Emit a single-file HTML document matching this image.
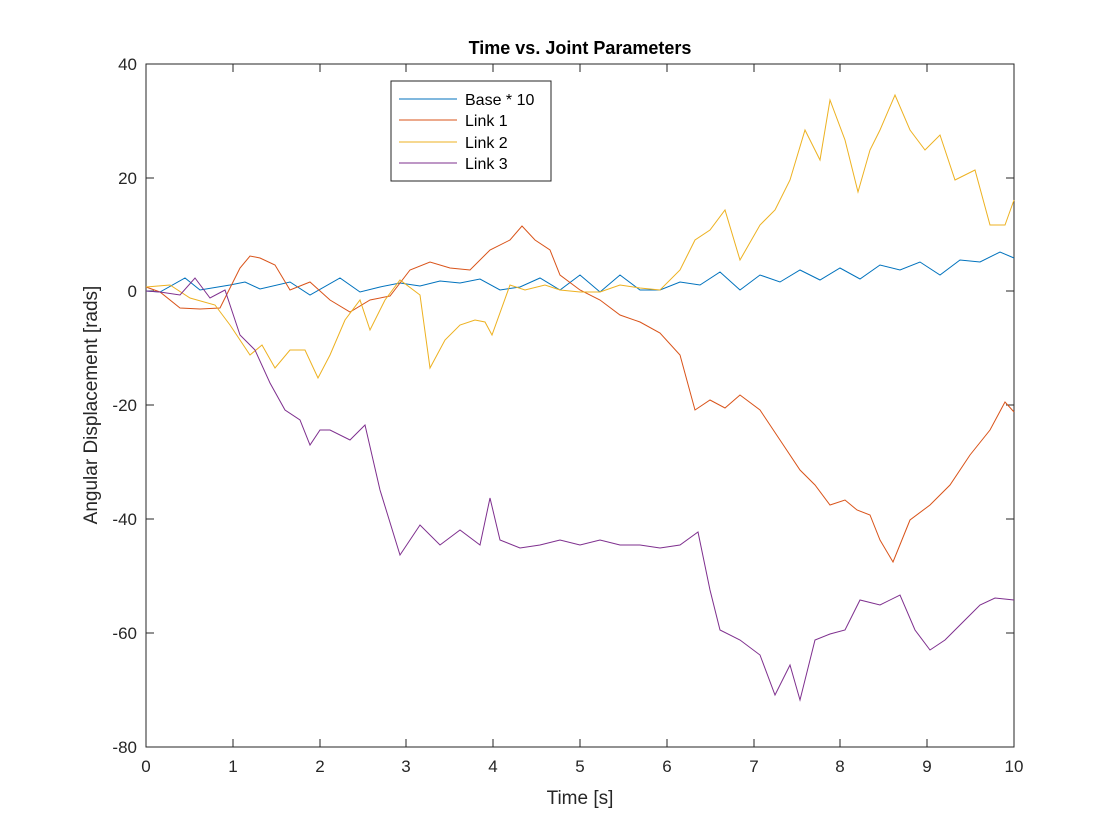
<!DOCTYPE html>
<html><head><meta charset="utf-8"><style>
body{margin:0;background:#fff}
svg{display:block;font-family:"Liberation Sans",sans-serif}
</style></head><body>
<svg width="1120" height="840" viewBox="0 0 1120 840">
<rect width="1120" height="840" fill="#fff"/>
<rect x="146" y="64" width="868" height="683" fill="#fff" stroke="#262626" stroke-width="1"/>
<g stroke="#262626" stroke-width="1">
<line x1="146" y1="747" x2="146" y2="739"/><line x1="233" y1="747" x2="233" y2="739"/><line x1="320" y1="747" x2="320" y2="739"/><line x1="406" y1="747" x2="406" y2="739"/><line x1="493" y1="747" x2="493" y2="739"/><line x1="580" y1="747" x2="580" y2="739"/><line x1="667" y1="747" x2="667" y2="739"/><line x1="754" y1="747" x2="754" y2="739"/><line x1="840" y1="747" x2="840" y2="739"/><line x1="927" y1="747" x2="927" y2="739"/>
<line x1="233" y1="64" x2="233" y2="72"/><line x1="320" y1="64" x2="320" y2="72"/><line x1="406" y1="64" x2="406" y2="72"/><line x1="493" y1="64" x2="493" y2="72"/><line x1="580" y1="64" x2="580" y2="72"/><line x1="667" y1="64" x2="667" y2="72"/><line x1="754" y1="64" x2="754" y2="72"/><line x1="840" y1="64" x2="840" y2="72"/><line x1="927" y1="64" x2="927" y2="72"/>
<line x1="146" y1="178" x2="154" y2="178"/><line x1="146" y1="291" x2="154" y2="291"/><line x1="146" y1="405" x2="154" y2="405"/><line x1="146" y1="519" x2="154" y2="519"/><line x1="146" y1="633" x2="154" y2="633"/>
<line x1="1014" y1="178" x2="1006" y2="178"/><line x1="1014" y1="291" x2="1006" y2="291"/><line x1="1014" y1="405" x2="1006" y2="405"/><line x1="1014" y1="519" x2="1006" y2="519"/><line x1="1014" y1="633" x2="1006" y2="633"/>
</g>
<g font-size="17" fill="#262626" text-anchor="middle">
<text x="146" y="772">0</text><text x="233" y="772">1</text><text x="320" y="772">2</text><text x="406" y="772">3</text><text x="493" y="772">4</text><text x="580" y="772">5</text><text x="667" y="772">6</text><text x="754" y="772">7</text><text x="840" y="772">8</text><text x="927" y="772">9</text><text x="1014" y="772">10</text>
</g>
<g font-size="17" fill="#262626" text-anchor="end">
<text x="137" y="70">40</text><text x="137" y="184">20</text><text x="137" y="297">0</text><text x="137" y="411">-20</text><text x="137" y="525">-40</text><text x="137" y="639">-60</text><text x="137" y="753">-80</text>
</g>
<text x="580" y="804" font-size="19" fill="#262626" text-anchor="middle">Time [s]</text>
<text transform="translate(97,405) rotate(-90)" font-size="19" fill="#262626" text-anchor="middle">Angular Displacement [rads]</text>
<text x="580" y="54" font-size="18" font-weight="bold" fill="#000" text-anchor="middle">Time vs. Joint Parameters</text>
<g fill="none" stroke-width="1">
<polyline stroke="#0072BD" points="146,291 160,292 185,278 200,290 230,285 245,282 260,289 290,282 310,295 340,278 360,292 380,287 400,283 420,286 440,281 460,283 480,279 500,290 520,287 540,278 560,290 580,275 600,292 620,275 640,290 660,290 680,282 700,285 720,272 740,290 760,275 780,282 800,270 820,280 840,268 860,279 880,265 900,270 920,262 940,275 960,260 980,262 1000,252 1014,258"/>
<polyline stroke="#D95319" points="146,287 160,292 180,308 200,309 220,308 240,268 250,256 260,258 275,265 290,290 310,282 330,300 350,312 370,300 390,296 410,270 430,262 450,268 470,270 490,250 510,240 522,226 535,240 550,250 560,275 580,290 600,300 620,315 640,322 660,333 680,355 695,410 710,400 725,408 740,395 760,410 780,440 800,470 815,485 830,505 845,500 857,510 870,515 880,540 893,562 910,520 930,505 950,485 970,455 990,430 1005,402 1014,412"/>
<polyline stroke="#EDB120" points="146,287 170,285 190,298 215,305 230,325 250,355 262,345 275,368 290,350 305,350 318,378 330,355 345,320 360,300 370,330 385,300 400,280 420,295 430,368 445,340 460,325 475,320 485,322 492,335 510,285 525,290 545,285 560,290 580,292 600,292 620,285 640,288 660,290 680,270 695,240 710,230 725,210 740,260 760,225 775,210 790,180 805,130 820,160 830,100 845,140 858,192 870,150 880,130 895,95 910,130 925,150 940,135 955,180 975,170 990,225 1005,225 1014,200"/>
<polyline stroke="#7E2F8E" points="146,291 160,292 180,295 195,278 210,298 225,290 240,335 255,350 270,383 285,410 300,420 310,445 320,430 330,430 350,440 365,425 380,490 400,555 420,525 440,545 460,530 480,545 490,498 500,540 520,548 540,545 560,540 580,545 600,540 620,545 640,545 660,548 680,545 698,532 710,590 720,630 740,640 760,655 775,695 790,665 800,700 815,640 830,634 845,630 860,600 880,605 900,595 915,630 930,650 945,640 960,625 980,605 995,598 1014,600"/>
</g>
<rect x="391" y="81" width="160" height="100" fill="#fff" stroke="#262626" stroke-width="1"/>
<g stroke-width="1">
<line x1="399" y1="99" x2="457" y2="99" stroke="#0072BD"/>
<line x1="399" y1="120" x2="457" y2="120" stroke="#D95319"/>
<line x1="399" y1="142" x2="457" y2="142" stroke="#EDB120"/>
<line x1="399" y1="163" x2="457" y2="163" stroke="#7E2F8E"/>
</g>
<g font-size="16" fill="#000">
<text x="465" y="105">Base * 10</text><text x="465" y="126">Link 1</text><text x="465" y="148">Link 2</text><text x="465" y="169">Link 3</text>
</g>
</svg>
</body></html>
